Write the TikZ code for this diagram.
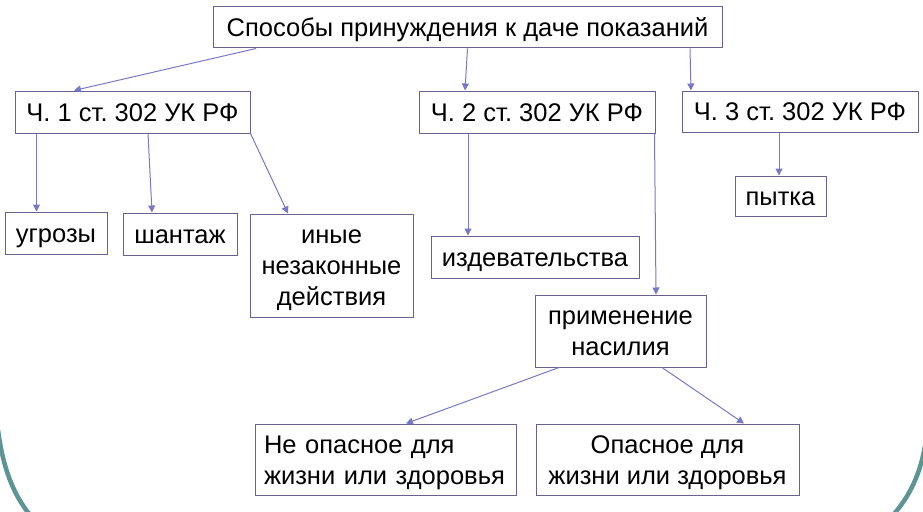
\documentclass[tikz,border=0pt]{standalone}
\usepackage{fontspec}
\setmainfont{Liberation Sans}
\usetikzlibrary{arrows.meta}
\definecolor{boxc}{RGB}{108,96,140}
\definecolor{arrc}{RGB}{120,120,200}
\definecolor{arcc}{RGB}{95,148,148}
\newcommand{\firstl}{\rule{0pt}{18pt}}
\newcommand{\lastl}[1]{\raisebox{0pt}[\height][0pt]{#1}}
\frenchspacing
\begin{document}
\begin{tikzpicture}[x=1pt,y=-1pt,
  box/.style={draw=boxc,line width=1pt,inner sep=0pt,align=center,
    font=\fontsize{25.5}{31}\selectfont\frenchspacing},
  one/.style={box,text height=18pt,text depth=0pt},
  arr/.style={draw=arrc,line width=1pt,-{Triangle[length=7pt,width=7pt]}}]
\useasboundingbox (0,0) rectangle (923,511);
% background arcs
\draw[arcc,line width=4.5pt] (-2,430) .. controls (3,468) and (13,494) .. (30,515);
\draw[arcc,line width=4.5pt] (925,446) .. controls (920,474) and (910,496) .. (893,515);
% nodes
\node[one,minimum width=509pt,minimum height=41pt] (top) at (467.5,27.5) {Способы принуждения к даче показаний};
\node[one,minimum width=235pt,minimum height=42pt] (b1) at (132.5,112) {Ч. 1 ст. 302 УК РФ};
\node[one,minimum width=236pt,minimum height=42pt] (b2) at (537,112) {Ч. 2 ст. 302 УК РФ};
\node[one,minimum width=236pt,minimum height=41pt] (b3) at (800,111.5) {Ч. 3 ст. 302 УК РФ};
\node[one,minimum width=102pt,minimum height=42pt] (ugr) at (56,233) {угрозы};
\node[one,minimum width=114pt,minimum height=42pt] (shan) at (180,234) {шантаж};
\node[box,minimum width=163pt,minimum height=103pt] (inye) at (331.5,265.5) {\firstl иные\\незаконные\\\lastl{действия}};
\node[one,minimum width=91pt,minimum height=40pt] (pyt) at (780.5,196) {пытка};
\node[one,minimum width=208pt,minimum height=42pt] (izd) at (535,257) {издевательства};
\node[box,minimum width=171pt,minimum height=72pt] (prim) at (620.5,331) {\firstl применение\\\lastl{насилия}};
\node[box,minimum width=261pt,minimum height=71pt,align=left,text width=243pt] (neop) at (385.5,459.5) {\firstl Не опасное для\\\lastl{жизни или здоровья}};
\node[box,minimum width=263pt,minimum height=71pt] (op) at (667.5,459.5) {\firstl Опасное для\\\lastl{жизни или здоровья}};
% connectors
\draw[arr] ([xshift=-211.5pt]top.south) -- ([xshift=-58.5pt]b1.north);
\draw[arr] (top.south) -- ([xshift=-72pt]b2.north);
\draw[arr] ([xshift=222.5pt]top.south) -- ([xshift=-109pt]b3.north);
\draw[arr] ([xshift=-96pt]b1.south) -- ([xshift=-19.5pt]ugr.north);
\draw[arr] ([xshift=15.5pt]b1.south) -- ([xshift=-28pt]shan.north);
\draw[arr] (b1.south east) -- ([xshift=-43.5pt]inye.north);
\draw[arr] ([xshift=-69pt]b2.south) -- ([xshift=-67pt]izd.north);
\draw[arr] ([xshift=-1pt]b2.south east) -- ([xshift=35.5pt]prim.north);
\draw[arr] ([xshift=-21pt]b3.south) -- ([xshift=-1.5pt]pyt.north);
\draw[arr] ([xshift=-61.5pt]prim.south) -- ([xshift=20.5pt]neop.north);
\draw[arr] ([xshift=41.5pt]prim.south) -- ([xshift=76.5pt]op.north);
\end{tikzpicture}
\end{document}
